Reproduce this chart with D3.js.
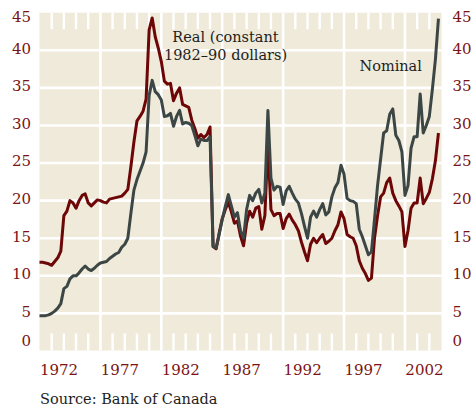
<!DOCTYPE html>
<html>
<head>
<meta charset="utf-8">
<script src="https://d3js.org/d3.v7.min.js"></script>
<style>
    body { margin: 0; background: #fff; }
    svg text { font-family: "DejaVu Serif", serif; }
</style>
</head>
<body>
<svg id="chart" width="474" height="410"></svg>
<script>
// quarterly series, first value = 1971 Q1
const START_YEAR = 1971;

const nominal = [
    4.7, 4.7, 4.7, 4.8, 5.0, 5.3, 5.7, 6.3, 8.3, 8.6,
    9.6, 10.0, 10.0, 10.4, 10.9, 11.3, 10.9, 10.7, 11.0, 11.4,
    11.7, 11.8, 11.9, 12.3, 12.6, 12.9, 13.1, 13.8, 14.2, 15.0,
    18.3, 21.4, 22.8, 23.9, 25.0, 26.5, 34.0, 36.0, 34.5, 34.1,
    33.4, 31.2, 31.3, 31.6, 29.9, 31.2, 32.0, 30.2, 30.4, 30.3,
    30.0, 28.7, 27.3, 28.2, 28.0, 28.0, 28.5, 13.9, 13.7, 15.5,
    17.5, 19.2, 20.8, 19.3, 17.8, 18.4, 16.0, 15.0, 18.8, 20.7,
    20.0, 21.0, 21.5, 19.7, 21.0, 32.0, 23.0, 21.4, 21.9, 21.8,
    19.5, 21.3, 21.9, 21.0, 20.2, 19.7, 18.3, 16.6, 15.0, 17.8,
    18.6, 17.8, 18.8, 19.6, 18.1, 18.5, 20.5, 21.7, 22.4, 24.7,
    23.5, 20.3, 20.0, 19.9, 19.6, 16.2, 15.2, 14.0, 12.8, 13.2,
    17.5, 22.0, 25.5, 29.0, 29.3, 31.5, 32.2, 28.7, 28.0, 26.5,
    20.7, 22.0, 27.0, 28.5, 28.5, 34.2, 29.0, 30.0, 31.2, 34.8,
    38.8, 44.2
];

const real = [
    11.8, 11.8, 11.7, 11.6, 11.4, 11.9, 12.4, 13.3, 18.0, 18.6,
    20.0, 19.7, 19.0, 20.0, 20.7, 20.9, 19.7, 19.3, 19.7, 20.1,
    20.0, 19.8, 19.7, 20.2, 20.3, 20.4, 20.5, 20.6, 21.0, 21.5,
    24.5, 27.8, 30.6, 31.2, 31.9, 33.5, 42.7, 44.3, 41.8, 40.3,
    38.5, 35.9, 35.5, 35.6, 33.3, 34.3, 35.0, 32.8, 32.6, 32.4,
    30.7, 29.6, 28.3, 28.8, 28.4, 28.8, 29.8, 13.9, 13.6, 15.7,
    17.6, 18.8, 19.8, 18.5, 17.0, 17.3, 15.3, 14.0, 17.0, 18.6,
    17.8, 19.0, 19.2, 16.2, 18.0, 27.6, 18.8, 18.0, 18.3, 18.3,
    16.3, 17.6, 18.2, 17.4, 16.8, 16.0, 14.5, 13.2, 12.0, 14.2,
    15.0, 14.4, 15.0, 15.5, 14.3, 14.6, 15.0, 16.0, 16.8, 18.5,
    17.6, 15.5, 15.2, 15.0, 14.0, 12.0, 11.0, 10.3, 9.4, 9.7,
    15.0, 18.0, 20.5, 21.0, 22.4, 23.0, 21.0, 20.0, 19.3, 18.5,
    13.9, 16.0, 19.0, 19.7, 19.7, 23.0, 19.6, 20.3, 21.1, 22.9,
    25.3, 29.0
];

const yTicks = [0, 5, 10, 15, 20, 25, 30, 35, 40, 45];
const xLabels = [1972, 1977, 1982, 1987, 1992, 1997, 2002];
const gridYears = [1976, 1981, 1986, 1991, 1996, 2001];

const RED = "#6d0606",
    GREY = "#3c4745",
    LABEL = "#7a1414",
    PAPER = "#efeada";

// panel edges (not "top": that name is taken by window.top)
var svg = d3.select("#chart"),
    pL = 39.5, pR = 441.5, pT = 12.7, pB = 351, panelBottom = 350.5;

var x = d3.scaleLinear().domain([1971, 2004]).range([pL, pR]);
var y = d3.scaleLinear().domain([0, 45]).range([pB, pT]);

// panel
svg.append("rect")
    .attr("x", pL)
    .attr("y", pT)
    .attr("width", pR - pL)
    .attr("height", panelBottom - pT)
    .attr("fill", PAPER);

// horizontal grid
svg.append("g")
    .selectAll("line")
    .data(yTicks.filter(d => d > 0 && d < 45))
    .enter()
    .append("line")
    .attr("x1", pL).attr("x2", pR)
    .attr("y1", d => y(d)).attr("y2", d => y(d))
    .attr("stroke", "#fff")
    .attr("stroke-width", 2.6);

// vertical grid
svg.append("g")
    .selectAll("line")
    .data(gridYears)
    .enter()
    .append("line")
    .attr("x1", d => x(d)).attr("x2", d => x(d))
    .attr("y1", pT).attr("y2", panelBottom)
    .attr("stroke", "#fff")
    .attr("stroke-width", 2.6);

// yearly ticks, top and bottom
let tickYears = d3.range(1972, 2004).filter(d => gridYears.indexOf(d) < 0);
let ticks = svg.append("g").attr("stroke", "#fff").attr("stroke-width", 2.4);
ticks.selectAll(".t")
    .data(tickYears)
    .enter()
    .append("line")
    .attr("x1", d => x(d)).attr("x2", d => x(d))
    .attr("y1", pT).attr("y2", pT + 16.5);
ticks.selectAll(".b")
    .data(tickYears)
    .enter()
    .append("line")
    .attr("x1", d => x(d)).attr("x2", d => x(d))
    .attr("y1", panelBottom - 17).attr("y2", panelBottom);

// lines
var line = d3.line()
    .x((d, i) => x(START_YEAR + i / 4))
    .y(d => y(d))
    .curve(d3.curveLinear);

svg.append("path")
    .datum(real)
    .attr("d", line)
    .attr("fill", "none")
    .attr("stroke", RED)
    .attr("stroke-width", 3)
    .attr("stroke-linejoin", "round");

svg.append("path")
    .datum(nominal)
    .attr("d", line)
    .attr("fill", "none")
    .attr("stroke", GREY)
    .attr("stroke-width", 3)
    .attr("stroke-linejoin", "round");

// y labels on both sides (end labels pulled inside the panel)
let labelY = d => Math.min(Math.max(y(d) - 2, 17), 341);

svg.append("g")
    .selectAll("text")
    .data(yTicks)
    .enter()
    .append("text")
    .attr("x", 31)
    .attr("y", labelY)
    .attr("dy", "0.36em")
    .attr("text-anchor", "end")
    .attr("fill", LABEL)
    .style("font-size", "15px")
    .text(d => d);

svg.append("g")
    .selectAll("text")
    .data(yTicks)
    .enter()
    .append("text")
    .attr("x", 452.5)
    .attr("y", labelY)
    .attr("dy", "0.36em")
    .attr("text-anchor", "start")
    .attr("fill", LABEL)
    .style("font-size", "15px")
    .text(d => d);

// x labels, centred in their year
svg.append("g")
    .selectAll("text")
    .data(xLabels)
    .enter()
    .append("text")
    .attr("x", d => x(d + 0.6))
    .attr("y", 375)
    .attr("text-anchor", "middle")
    .attr("fill", LABEL)
    .style("font-size", "15px")
    .text(d => d);

// series notes
let note = function(t, v, str) {
    svg.append("text")
        .attr("x", x(t))
        .attr("y", y(v))
        .attr("text-anchor", "middle")
        .attr("fill", "#1e1e1e")
        .style("font-size", "14.5px")
        .text(str);
};
note(1986.27, 41.05, "Real (constant");
note(1986.27, 38.75, "1982\u201390 dollars)");
note(1999.83, 37.3, "Nominal");

svg.append("text")
    .attr("x", 40)
    .attr("y", 404)
    .attr("fill", "#1e1e1e")
    .style("font-size", "14.5px")
    .text("Source: Bank of Canada");
</script>
</body>
</html>
